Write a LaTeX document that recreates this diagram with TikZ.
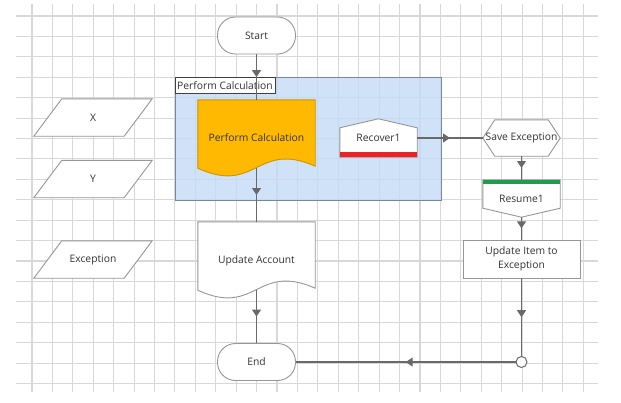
\documentclass[tikz,border=0pt]{standalone}
\usepackage{fontspec}
\setmainfont{Open Sans}
\usetikzlibrary{calc,arrows.meta,decorations.markings}

\pgfdeclarelayer{background}
\pgfsetlayers{background,main}

\definecolor{gridgray}{RGB}{216,216,216}
\definecolor{shapegray}{RGB}{150,150,150}
\definecolor{linegray}{RGB}{105,105,105}
\definecolor{boxblue}{RGB}{196,219,245}
\definecolor{boxedge}{RGB}{120,135,155}
\definecolor{calcorange}{RGB}{255,185,0}
\definecolor{barred}{RGB}{230,36,40}
\definecolor{bargreen}{RGB}{30,158,74}
\definecolor{textgray}{RGB}{50,50,50}

% outlines drawn from the anchors of a plain node
\newcommand{\docoutline}[2][]{%
  \draw[shapeline,#1] (#2.north west) -- (#2.north east) -- ($(#2.south east)+(0,-2)$)
    .. controls ($(#2.south)+(0,-28)$) and ($(#2.south)+(0,27)$) .. (#2.south west) -- cycle;}
\newcommand{\dataoutline}[1]{%
  \draw[shapeline] ($(#1.north west)+(28,0)$) -- (#1.north east)
    -- ($(#1.south east)+(-28,0)$) -- (#1.south west) -- cycle;}

\begin{document}
\begin{tikzpicture}[
    x=1pt, y=-1pt,
    font=\fontsize{10.3}{14}\selectfont,
    text=textgray,
    shapeline/.style={draw=shapegray, fill=white, line width=0.9pt},
    terminal/.style={draw=shapegray, fill=white, line width=0.9pt, rounded corners=18pt,
        minimum width=78pt, minimum height=37pt},
    plainbox/.style={minimum width=#1, minimum height=37pt, inner sep=0pt},
    plainbox/.default=77pt,
    docbox/.style={minimum width=117pt, minimum height=68pt, inner sep=0pt,
        text height=14pt, text depth=0pt},
    procbox/.style={draw=shapegray, fill=white, line width=0.9pt, align=center,
        minimum width=117pt, minimum height=38pt},
    flow/.style={draw=linegray, line width=1.2pt, postaction={decorate},
        decoration={markings, mark=at position 0.5 with
            {\arrow{Triangle[length=7pt,width=9pt]}}}},
]
\useasboundingbox (0,0) rectangle (621,402);

% Grid
\begin{pgfonlayer}{background}
\foreach \i in {0,...,27} {
    \draw[gridgray, line width=1.1pt] ({32+20.42*\i},4) -- ({32+20.42*\i},392);
}
\foreach \j in {0,...,18} {
    \draw[gridgray, line width=1.1pt] (16,{16+20.42*\j}) -- (598,{16+20.42*\j});
}
% Scope box
\draw[fill=boxblue, fill opacity=0.8, draw=boxedge, line width=0.8pt] (175,77) rectangle (441,200);
\end{pgfonlayer}

\node[draw=black!75, fill=white, anchor=north west, inner xsep=2pt, inner ysep=1pt,
      minimum height=16pt] (calclabel) at (175,77) {Perform Calculation};

% Main column
\node[terminal] (start) at (256.5,35.5) {Start};
\node[docbox] (pc) at (256.5,134) {Perform Calculation};
\node[docbox] (ua) at (256.5,256) {Update Account};
\node[terminal] (end) at (256.5,362) {End};

% Variables
\node[plainbox=118pt] (x) at (93,117.5) {X};
\node[plainbox=118pt] (y) at (93,179) {Y};
\node[plainbox=118pt] (exc) at (93,259.5) {Exception};

% Exception handling
\node[plainbox, minimum height=38pt] (rec) at (378.5,138) {Recover1};
\node[plainbox, minimum height=36pt] (save) at (521.5,138) {Save Exception};
\node[plainbox] (res) at (521.5,198.5) {Resume1};
\node[procbox] (upd) at (521.5,259) {Update Item to\\Exception};
\node[circle, draw=linegray, fill=white, line width=1pt, minimum size=11pt, inner sep=0pt]
    (join) at (521.5,362) {};

% Shape outlines
\begin{pgfonlayer}{background}
\docoutline[fill=calcorange, draw=calcorange!80!black]{pc}
\docoutline{ua}
\dataoutline{x}
\dataoutline{y}
\dataoutline{exc}
\draw[shapeline] (rec.south west) -- ($(rec.north west)+(0,9)$) -- (rec.north)
    -- ($(rec.north east)+(0,9)$) -- (rec.south east) -- cycle;
\fill[barred] ($(rec.south west)+(0,-5)$) rectangle (rec.south east);
\draw[shapeline] (save.west) -- ($(save.north west)+(12,0)$) -- ($(save.north east)+(-12,0)$)
    -- (save.east) -- ($(save.south east)+(-12,0)$) -- ($(save.south west)+(12,0)$) -- cycle;
\draw[shapeline] (res.north west) -- (res.north east) -- ($(res.south east)+(0,-9)$)
    -- (res.south) -- ($(res.south west)+(0,-9)$) -- cycle;
\fill[bargreen] (res.north west) rectangle ($(res.north east)+(0,4)$);
\end{pgfonlayer}

% Connectors
\draw[flow] (start.south) -- (pc.north);
\draw[flow] (pc.south) -- (ua.north);
\draw[flow] (ua.south) -- (end.north);
\draw[flow] (rec.east) -- (save.west);
\draw[flow] (save.south) -- (res.north);
\draw[flow] (res.south) -- (upd.north);
\draw[flow] (upd.south) -- (join.north);
\draw[flow] (join.west) -- (end.east);

\end{tikzpicture}
\end{document}
